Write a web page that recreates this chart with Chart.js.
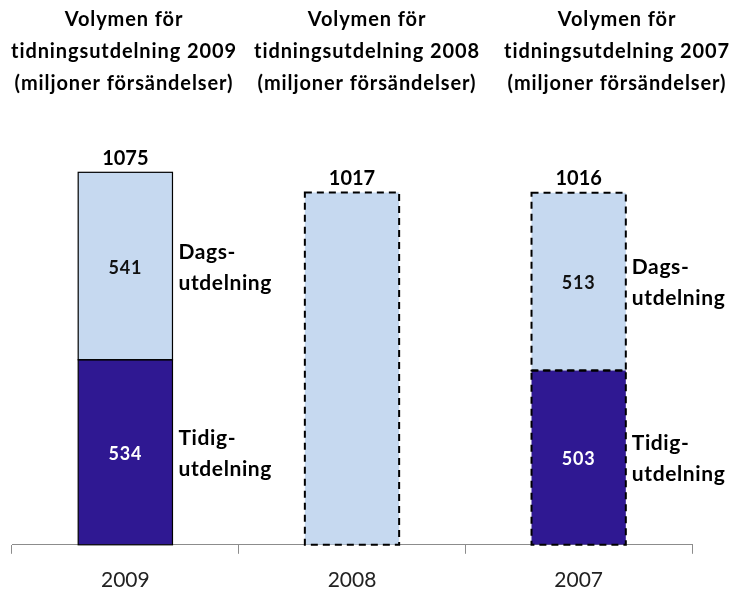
<!DOCTYPE html>
<html>
<head>
<meta charset="utf-8">
<script src="https://cdn.jsdelivr.net/npm/chart.js@4"></script>
<style>
  body { margin: 0; background: #fff; }
  #wrap { width: 737px; height: 593px; }
</style>
</head>
<body>
<div id="wrap"><canvas id="myChart"></canvas></div>
<script>
const years = ["2009", "2008", "2007"];
const tidig = [534, null, 503];
const dags = [541, null, 513];
const total2008 = [null, 1017, null];
const totals = [1075, 1017, 1016];
const titles = [
  ["Volymen för", "tidningsutdelning 2009", "(miljoner försändelser)"],
  ["Volymen för", "tidningsutdelning 2008", "(miljoner försändelser)"],
  ["Volymen för", "tidningsutdelning 2007", "(miljoner försändelser)"],
];
const sideLabels = { tidig: ["Tidig-", "utdelning"], dags: ["Dags-", "utdelning"] };

const FONT = "Lato, 'Open Sans', sans-serif";
const dashedCats = [false, true, true];

// draws outlines, value labels, side labels and titles
const overlay = {
  id: "overlay",
  afterDatasetsDraw(chart) {
    const ctx = chart.ctx;
    const tops = [];
    chart.data.datasets.forEach((ds, di) => {
      const meta = chart.getDatasetMeta(di);
      meta.data.forEach((el, i) => {
        if (ds.data[i] == null) return;
        const p = el.getProps(["x", "y", "base", "width"], true);
        const left = p.x - p.width / 2;
        ctx.save();
        ctx.strokeStyle = "#000";
        if (dashedCats[i]) {
          ctx.lineWidth = 2;
          ctx.setLineDash([7, 5]);
        } else {
          ctx.lineWidth = 1.2;
        }
        ctx.strokeRect(left, p.y, p.width, p.base - p.y);
        ctx.restore();
        tops[i] = tops[i] == null ? p.y : Math.min(tops[i], p.y);

        if (ds.key === "tidig" || ds.key === "dags") {
          const cy = (p.y + p.base) / 2;
          ctx.save();
          ctx.font = "bold 18px " + FONT;
          ctx.letterSpacing = "0.8px";
          ctx.textAlign = "center";
          ctx.textBaseline = "middle";
          ctx.fillStyle = ds.key === "tidig" ? "#fff" : "#111";
          ctx.fillText(String(ds.data[i]), p.x, cy + 2);
          ctx.font = "bold 21px " + FONT;
          ctx.letterSpacing = "0.6px";
          ctx.textAlign = "left";
          ctx.fillStyle = "#000";
          const lines = sideLabels[ds.key];
          ctx.fillText(lines[0], p.x + p.width / 2 + 6, cy - 14);
          ctx.fillText(lines[1], p.x + p.width / 2 + 6, cy + 17);
          ctx.restore();
        }
      });
    });

    ctx.save();
    ctx.font = "bold 20px " + FONT;
    ctx.textAlign = "center";
    ctx.textBaseline = "middle";
    ctx.fillStyle = "#000";
    const xs = chart.scales.x;
    totals.forEach((t, i) => {
      ctx.fillText(String(t), xs.getPixelForValue(i), tops[i] - 14);
    });

    ctx.font = "bold 20px " + FONT;
    ctx.letterSpacing = "0.9px";
    const titleX = [124, 367, 617];
    titles.forEach((lines, i) => {
      lines.forEach((ln, k) => {
        ctx.fillText(ln, titleX[i], 20 + k * 32);
      });
    });
    ctx.restore();
  },
};

new Chart("myChart", {
  type: "bar",
  data: {
    labels: years,
    datasets: [
      { key: "tidig", label: "Tidigutdelning", data: tidig, backgroundColor: "#2f1892", borderWidth: 0 },
      { key: "dags", label: "Dagsutdelning", data: dags, backgroundColor: "#c6d9f0", borderWidth: 0 },
      { key: "total", label: "2008", data: total2008, backgroundColor: "#c6d9f0", borderWidth: 0 },
    ],
  },
  options: {
    responsive: true,
    maintainAspectRatio: false,
    animation: false,
    layout: { padding: { left: 12, right: 45, top: 129, bottom: -14 } },
    plugins: {
      legend: { display: false },
      tooltip: { enabled: false },
    },
    datasets: { bar: { barPercentage: 0.416, categoryPercentage: 1 } },
    scales: {
      x: {
        stacked: true,
        grid: {
          offset: true,
          drawOnChartArea: false,
          tickLength: 9,
          color: "#8c8c8c",
        },
        border: { color: "#8c8c8c", width: 1 },
        ticks: {
          padding: 14,
          color: "#222",
          font: { family: FONT, size: 21 },
        },
      },
      y: {
        stacked: true,
        display: false,
        min: 0,
        max: 1200,
      },
    },
  },
  plugins: [overlay],
});
</script>
</body>
</html>
